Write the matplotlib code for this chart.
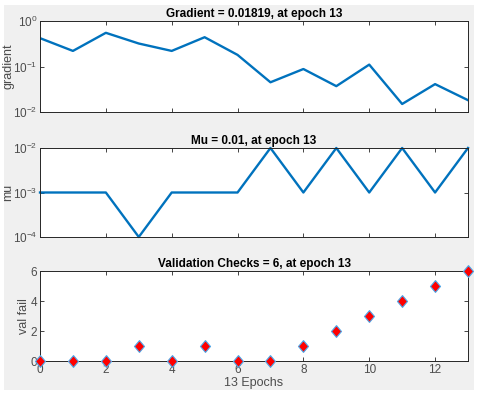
import matplotlib
matplotlib.use("Agg")
import matplotlib.pyplot as plt
from matplotlib.ticker import NullLocator
from matplotlib.patches import Rectangle

epochs = list(range(14))
gradient = [0.42, 0.22, 0.55, 0.32, 0.22, 0.44, 0.18, 0.045, 0.088, 0.037, 0.11, 0.015, 0.041, 0.01819]
mu = [1e-3, 1e-3, 1e-3, 1e-4, 1e-3, 1e-3, 1e-3, 1e-2, 1e-3, 1e-2, 1e-3, 1e-2, 1e-3, 1e-2]
val_fail = [0, 0, 0, 1, 0, 1, 0, 0, 1, 2, 3, 4, 5, 6]
titles = ["Gradient = 0.01819, at epoch 13", "Mu = 0.01, at epoch 13",
          "Validation Checks = 6, at epoch 13"]
ylabels = ["gradient", "mu", "val fail"]
xlabel = "13 Epochs"

plt.rcParams['font.family'] = ['Liberation Sans', 'DejaVu Sans']
plt.rcParams['mathtext.fontset'] = 'custom'
plt.rcParams['mathtext.rm'] = 'Liberation Sans'
tc = '#4d4d4d'
sc = '#262626'
blue = '#0072BD'

W, H = 480, 396
fig = plt.figure(figsize=(W/100, H/100), dpi=100, facecolor='white')
fig.patches.append(Rectangle((4/W, 1 - 390/H), (474-4)/W, (390-5)/H,
                             transform=fig.transFigure, facecolor='#f0f0f0',
                             edgecolor='none', zorder=-10))

boxes = [(21, 112), (148, 237), (271, 361)]
L, R = 40, 468
axes = []
for (t, b) in boxes:
    ax = fig.add_axes([L/W, 1 - b/H, (R-L)/W, (b-t)/H])
    axes.append(ax)

def style(ax):
    ax.set_xlim(0, 13)
    ax.set_xticks([0, 2, 4, 6, 8, 10, 12])
    ax.tick_params(direction='in', top=True, right=True, length=3, width=0.6,
                   labelsize=8.5, colors=sc, labelcolor=tc, pad=2)
    for s in ax.spines.values():
        s.set_linewidth(0.7)
        s.set_color(sc)

ax = axes[0]
ax.semilogy(epochs, gradient, color=blue, lw=1.7)
ax.set_ylim(1e-2, 1)
ax.set_yticks([1e-2, 1e-1, 1])
ax.yaxis.set_minor_locator(NullLocator())
style(ax)
ax.set_xticklabels([])

ax = axes[1]
ax.semilogy(epochs, mu, color=blue, lw=1.7, clip_on=False)
ax.set_ylim(1e-4, 1e-2)
ax.set_yticks([1e-4, 1e-3, 1e-2])
ax.yaxis.set_minor_locator(NullLocator())
style(ax)
ax.set_xticklabels([])

diamond = [(0, 1), (0.85, 0), (0, -1), (-0.85, 0), (0, 1)]
ax = axes[2]
ax.plot(epochs, val_fail, linestyle='none', marker=diamond, markersize=8.5,
        markerfacecolor='red', markeredgecolor='#4da6e8', markeredgewidth=0.8,
        clip_on=False, zorder=5)
ax.set_ylim(0, 6)
ax.set_yticks([0, 2, 4, 6])
style(ax)
ax.set_xlabel(xlabel, fontsize=9, color=tc, labelpad=1)

label_x = [15, 14, 30]
for ax, t, yl, lx in zip(axes, titles, ylabels, label_x):
    ax.set_title(t, fontsize=8.5, fontweight='bold', color='black', pad=3)
    ax.set_ylabel(yl, fontsize=9, color=tc)
    ax.yaxis.set_label_coords((lx - L) / (R - L), 0.5)

fig.savefig('out.png', dpi=100, facecolor=fig.get_facecolor())
